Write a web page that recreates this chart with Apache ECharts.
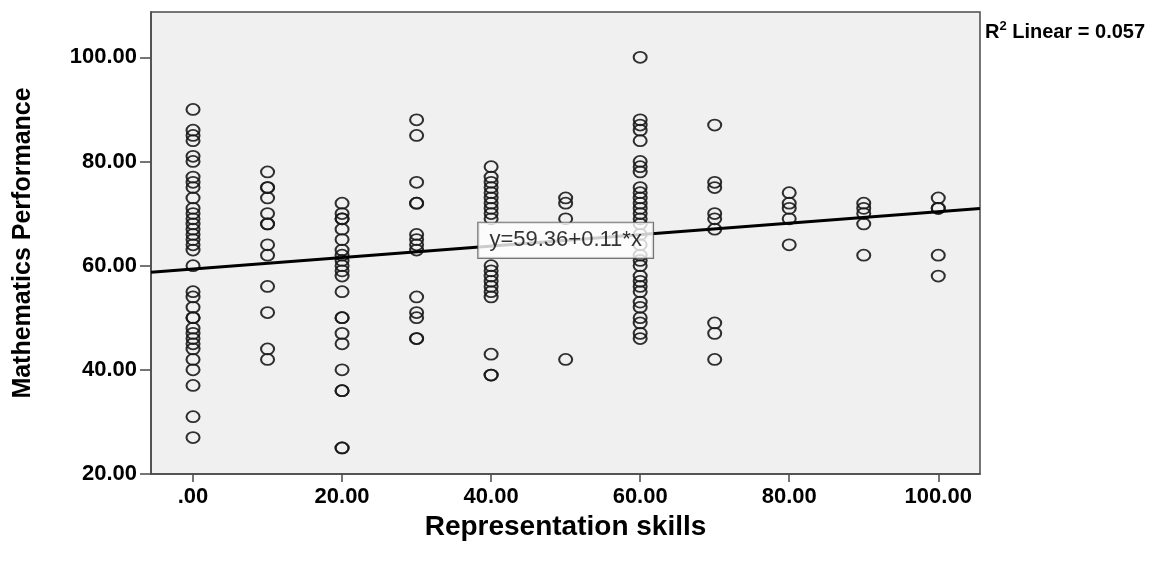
<!DOCTYPE html>
<html>
<head>
<meta charset="utf-8">
<script src="https://cdn.jsdelivr.net/npm/echarts@6/dist/echarts.min.js"></script>
<style>html,body{margin:0;padding:0;background:#fff}#c{width:1171px;height:562px}</style>
</head>
<body>
<div id="c"></div>
<script>
// Representation skills levels (x) and Mathematics Performance values (y) per level
const xLevels = [0, 10, 20, 30, 40, 50, 60, 70, 80, 90, 100];
const y0   = [90, 86, 85, 84, 81, 80, 77, 76, 75, 73, 71, 70, 69, 68, 67, 66, 65, 64, 63, 60, 55, 54, 52, 50, 50, 48, 47, 46, 45, 44, 42, 40, 37, 31, 27];
const y10  = [78, 75, 75, 73, 70, 68, 68, 64, 62, 56, 51, 44, 42];
const y20  = [72, 70, 69, 69, 67, 65, 63, 62, 61, 60, 59, 58, 55, 50, 50, 47, 45, 40, 36, 36, 25, 25];
const y30  = [88, 85, 76, 72, 72, 66, 65, 64, 63, 54, 51, 50, 46, 46];
const y40  = [79, 77, 76, 75, 74, 73, 72, 71, 70, 69, 60, 59, 58, 57, 56, 55, 54, 43, 39, 39];
const y50  = [73, 72, 69, 42];
const y60  = [100, 88, 87, 86, 84, 80, 79, 78, 75, 74, 73, 72, 71, 70, 69, 68, 66, 64, 62, 61, 60, 58, 57, 56, 55, 53, 52, 50, 49, 47, 46];
const y70  = [87, 76, 75, 70, 69, 67, 49, 47, 42];
const y80  = [74, 72, 71, 69, 64];
const y90  = [72, 71, 70, 68, 62];
const y100 = [73, 71, 71, 62, 58];
const yByLevel = [y0, y10, y20, y30, y40, y50, y60, y70, y80, y90, y100];

const xTicks = [0, 20, 40, 60, 80, 100];
const yTicks = [20, 40, 60, 80, 100];
const fitIntercept = 59.36;
const fitSlope = 0.11;
const r2 = '0.057';

const xMin = -5.64, xMax = 105.6, yMin = 20, yMax = 108.7;

const points = [];
xLevels.forEach((x, i) => yByLevel[i].forEach(y => points.push([x, y])));
const fitLine = [[xMin, fitIntercept + fitSlope * xMin], [xMax, fitIntercept + fitSlope * xMax]];
const fitLabelX = 50;

const fmt = v => (v === 0 ? '.00' : v.toFixed(2));
const font = '"Liberation Sans", Arial, sans-serif';

const chart = echarts.init(document.getElementById('c'), null, {renderer: 'canvas'});
chart.setOption({
  animation: false,
  backgroundColor: '#ffffff',
  title: {
    left: 980, top: 15,
    text: '{b|R}{s|2}{b| Linear = ' + r2 + '}',
    textStyle: {
      rich: {
        b: {fontFamily: font, fontWeight: 'bold', fontSize: 20, color: '#000', verticalAlign: 'bottom', lineHeight: 22},
        s: {fontFamily: font, fontWeight: 'bold', fontSize: 13, color: '#000', verticalAlign: 'top', lineHeight: 22, padding: [0, 0, 8, 0]}
      }
    }
  },
  grid: {
    left: 151, top: 12, right: 191, bottom: 88,
    show: true, backgroundColor: '#f0f0f0', borderColor: '#4a4a4a', borderWidth: 1.5
  },
  xAxis: {
    type: 'value', min: xMin, max: xMax,
    name: 'Representation skills', nameLocation: 'middle', nameGap: 33,
    nameTextStyle: {fontFamily: font, fontWeight: 'bold', fontSize: 28, color: '#000'},
    axisLine: {show: true, onZero: false, lineStyle: {color: '#4a4a4a', width: 1.5}},
    axisTick: {show: true, length: 8, lineStyle: {color: '#4a4a4a', width: 1.5}, customValues: xTicks},
    axisLabel: {customValues: xTicks, formatter: fmt, fontFamily: font, fontWeight: 'bold', fontSize: 22, color: '#000', margin: 12},
    splitLine: {show: false}
  },
  yAxis: {
    type: 'value', min: yMin, max: yMax,
    name: 'Mathematics Performance', nameLocation: 'middle', nameGap: 115, nameRotate: 90,
    nameTextStyle: {fontFamily: font, fontWeight: 'bold', fontSize: 25, color: '#000'},
    axisLine: {show: true, onZero: false, lineStyle: {color: '#4a4a4a', width: 1.5}},
    axisTick: {show: true, length: 11, lineStyle: {color: '#4a4a4a', width: 1.5}, customValues: yTicks},
    axisLabel: {customValues: yTicks, formatter: fmt, fontFamily: font, fontWeight: 'bold', fontSize: 22, color: '#000', margin: 14},
    splitLine: {show: false}
  },
  series: [
    {
      type: 'scatter', data: points, symbol: 'circle', symbolSize: [13, 11],
      itemStyle: {color: 'transparent', borderColor: '#1a1a1a', borderWidth: 1.9, opacity: 0.9},
      z: 2
    },
    {
      type: 'line', data: fitLine, showSymbol: false, symbol: 'none',
      lineStyle: {color: '#000', width: 3.2}, z: 3
    },
    {
      type: 'scatter', data: [[fitLabelX, fitIntercept + fitSlope * fitLabelX]], symbolSize: 0,
      label: {
        show: true, position: 'inside',
        formatter: 'y=' + fitIntercept.toFixed(2) + '+' + fitSlope.toFixed(2) + '*x',
        fontFamily: font, fontSize: 22, color: '#000',
        backgroundColor: '#fff', borderColor: '#555', borderWidth: 1.2, padding: [7, 11, 6, 11]
      },
      z: 5
    }
  ]
});
</script>
</body>
</html>
